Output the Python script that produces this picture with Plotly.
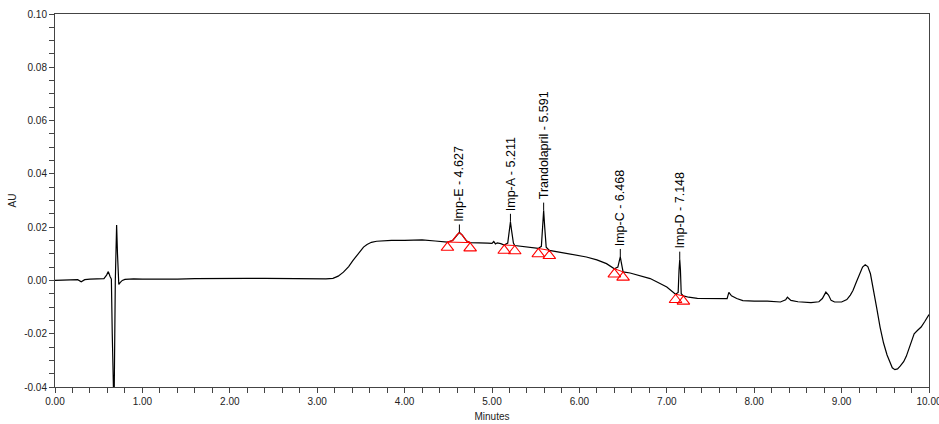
import plotly.graph_objects as go
import numpy as np

# Chromatogram trace (minutes, AU)
time_min = [
    0.00, 0.10, 0.20, 0.26, 0.30, 0.34, 0.40, 0.50, 0.56, 0.59, 0.61, 0.63, 0.645,
    0.655, 0.665, 0.675, 0.69, 0.705, 0.715, 0.73, 0.745, 0.77, 0.80, 0.90, 1.00,
    1.20, 1.40, 1.60, 1.80, 2.00, 2.20, 2.40, 2.60, 2.80, 3.00, 3.10, 3.18, 3.24, 3.30,
    3.36, 3.41, 3.47, 3.53, 3.57, 3.62, 3.68, 3.75, 3.85, 4.00, 4.20, 4.35, 4.45,
    4.49, 4.55, 4.60, 4.627, 4.66, 4.71, 4.75,
    4.85, 4.95, 5.00, 5.02, 5.04, 5.06, 5.10,
    5.14, 5.18, 5.20, 5.211, 5.225, 5.245, 5.26,
    5.35, 5.45, 5.53, 5.565, 5.58, 5.591, 5.603, 5.62, 5.656,
    5.78, 5.90, 6.08, 6.20, 6.31, 6.40, 6.44, 6.458, 6.468, 6.478, 6.50,
    6.58, 6.70, 6.81, 6.90, 7.00, 7.10, 7.13, 7.140, 7.148, 7.156, 7.165, 7.19,
    7.25, 7.35, 7.50, 7.65, 7.69, 7.71, 7.74, 7.80, 7.87, 8.00, 8.15, 8.30, 8.36,
    8.38, 8.42, 8.50, 8.65, 8.74, 8.78, 8.82, 8.85, 8.88, 8.92, 9.00, 9.06, 9.10,
    9.13, 9.17, 9.20, 9.24, 9.27, 9.30, 9.33, 9.36, 9.40, 9.44, 9.48, 9.52, 9.55,
    9.58, 9.61, 9.64, 9.67, 9.71, 9.74, 9.77, 9.80, 9.83, 9.87, 9.91, 9.95, 9.98, 10.00,
]
absorbance_au = [
    0.0000, 0.0001, 0.0002, 0.0003, -0.0005, 0.0003, 0.0005, 0.0006, 0.0007, 0.0020, 0.0033, 0.0015, 0.0005,
    -0.0200, -0.0500, -0.0500, 0.0000, 0.0208, 0.0100, -0.0015, -0.0008, 0.0000, 0.0004, 0.0006, 0.0005,
    0.0004, 0.0005, 0.0007, 0.0008, 0.0008, 0.0008, 0.0008, 0.0007, 0.0008, 0.0006, 0.0006, 0.0008, 0.0016, 0.0031,
    0.0052, 0.0075, 0.0102, 0.0125, 0.0135, 0.0143, 0.0147, 0.0149, 0.0150, 0.0150, 0.0152, 0.0148, 0.0146,
    0.0144, 0.0150, 0.0172, 0.0180, 0.0170, 0.0148, 0.0142,
    0.0142, 0.0140, 0.0139, 0.0146, 0.0137, 0.0141, 0.0138,
    0.0133, 0.0140, 0.0185, 0.0220, 0.0185, 0.0140, 0.0131,
    0.0128, 0.0124, 0.0120, 0.0128, 0.0200, 0.0262, 0.0200, 0.0125, 0.0113,
    0.0106, 0.0099, 0.0088, 0.0077, 0.0063, 0.0044, 0.0050, 0.0075, 0.0088, 0.0070, 0.0032,
    0.0028, 0.0018, 0.0007, -0.0008, -0.0025, -0.0052, -0.0045, 0.0040, 0.0078, 0.0040, -0.0050, -0.0058,
    -0.0063, -0.0067, -0.0068, -0.0070, -0.0068, -0.0045, -0.0058, -0.0068, -0.0076, -0.0078, -0.0078, -0.0081, -0.0073,
    -0.0063, -0.0075, -0.0080, -0.0083, -0.0080, -0.0068, -0.0044, -0.0055, -0.0075, -0.0081, -0.0081, -0.0072, -0.0055,
    -0.0038, -0.0005, 0.0020, 0.0050, 0.0059, 0.0052, 0.0025, -0.0025, -0.0100, -0.0175, -0.0235, -0.0280, -0.0308,
    -0.0328, -0.0335, -0.0332, -0.0322, -0.0305, -0.0285, -0.0255, -0.0222, -0.0200, -0.0187, -0.0175, -0.0155, -0.0138, -0.0128,
]

# Integrated peaks
peak_names = ["Imp-E", "Imp-A", "Trandolapril", "Imp-C", "Imp-D"]
peak_rt = [4.627, 5.211, 5.591, 6.468, 7.148]
peak_apex = [0.0180, 0.0220, 0.0262, 0.0088, 0.0078]
peak_start_t = [4.49, 5.14, 5.53, 6.40, 7.10]
peak_start_au = [0.0144, 0.0133, 0.0120, 0.0044, -0.0052]
peak_end_t = [4.75, 5.26, 5.656, 6.50, 7.19]
peak_end_au = [0.0142, 0.0131, 0.0113, 0.0032, -0.0058]

x_ticks = [0, 1, 2, 3, 4, 5, 6, 7, 8, 9, 10]
x_tick_text = ["0.00", "1.00", "2.00", "3.00", "4.00", "5.00", "6.00", "7.00", "8.00", "9.00", "10.00"]
y_ticks = [-0.04, -0.02, 0.00, 0.02, 0.04, 0.06, 0.08, 0.10]
y_tick_text = ["-0.04", "-0.02", "0.00", "0.02", "0.04", "0.06", "0.08", "0.10"]

Y_RANGE = [-0.04, 0.10]
PLOT_H = 424 - 14 - 37
tri_px = 5.5
tri_shift = tri_px * (Y_RANGE[1] - Y_RANGE[0]) / PLOT_H

FONT = "Liberation Sans, Arial, sans-serif"

fig = go.Figure()

fig.add_trace(go.Scatter(x=time_min, y=absorbance_au, mode="lines",
                         line=dict(color="black", width=1.2), hoverinfo="skip"))

# Imp-E peak drawn in red
t_arr = np.array(time_min)
a_arr = np.array(absorbance_au)
mask = (t_arr >= peak_start_t[0]) & (t_arr <= peak_end_t[0])
fig.add_trace(go.Scatter(x=t_arr[mask], y=a_arr[mask], mode="lines",
                         line=dict(color="red", width=1.2), hoverinfo="skip"))

# Red baselines
for i in range(len(peak_names)):
    fig.add_trace(go.Scatter(x=[peak_start_t[i], peak_end_t[i]],
                             y=[peak_start_au[i], peak_end_au[i]], mode="lines",
                             line=dict(color="red", width=1), hoverinfo="skip"))

# Start / end triangles (drawn on a slightly shifted overlay axis so the apex touches the trace)
fig.add_trace(go.Scatter(x=peak_start_t + peak_end_t, y=peak_start_au + peak_end_au,
                         mode="markers", yaxis="y2",
                         marker=dict(symbol="triangle-up-open", size=11, color="red",
                                     line=dict(color="red", width=1.1)),
                         hoverinfo="skip"))

for i in range(len(peak_names)):
    fig.add_shape(type="line", xref="x", yref="y", ysizemode="pixel",
                  x0=peak_rt[i], x1=peak_rt[i], yanchor=peak_apex[i], y0=0, y1=8,
                  line=dict(color="black", width=1))
    fig.add_annotation(x=peak_rt[i], y=peak_apex[i], xref="x", yref="y",
                       text=f"{peak_names[i]} - {peak_rt[i]:.3f}", showarrow=False,
                       textangle=-90, xanchor="center", yanchor="bottom", yshift=9,
                       font=dict(family=FONT, size=12.5, color="black"))

fig.update_layout(
    width=939, height=424,
    margin=dict(l=55, r=10, t=14, b=37),
    paper_bgcolor="white", plot_bgcolor="white",
    showlegend=False,
    font=dict(family=FONT, size=10, color="#222"),
    xaxis=dict(range=[0, 10], tickvals=x_ticks, ticktext=x_tick_text,
               ticks="outside", ticklen=5, tickcolor="#444", tickwidth=1,
               minor=dict(dtick=0.2, ticks="outside", ticklen=5, tickcolor="#444", tickwidth=1),
               showline=True, linecolor="#444", linewidth=1, mirror=True,
               showgrid=False, zeroline=False, automargin=False,
               ticklabeloverflow="allow",
               tickfont=dict(family=FONT, size=10, color="#222"),
               title=dict(text="Minutes", font=dict(family=FONT, size=10, color="#222"), standoff=6)),
    yaxis=dict(range=Y_RANGE, tickvals=y_ticks, ticktext=y_tick_text,
               ticks="outside", ticklen=5, tickcolor="#444", tickwidth=1,
               minor=dict(dtick=0.005, tick0=0, ticks="outside", ticklen=5, tickcolor="#444", tickwidth=1),
               showline=True, linecolor="#444", linewidth=1, mirror=True,
               showgrid=False, zeroline=False, automargin=False,
               ticklabeloverflow="allow",
               tickfont=dict(family=FONT, size=10, color="#222"),
               title=dict(text="AU", font=dict(family=FONT, size=10, color="#222"), standoff=5)),
    yaxis2=dict(range=[Y_RANGE[0] + tri_shift, Y_RANGE[1] + tri_shift], overlaying="y",
                visible=False, showgrid=False, zeroline=False),
)

fig.write_html("out.html",
               config={"displayModeBar": False, "staticPlot": True},
               post_script="document.body.style.margin='0';document.body.style.overflow='hidden';")
